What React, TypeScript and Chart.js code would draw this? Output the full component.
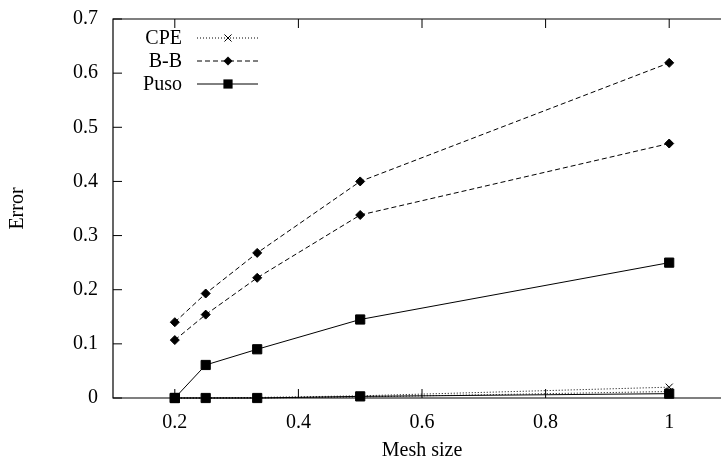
import { useEffect, useRef } from "react";
import { Chart, registerables } from "chart.js";

Chart.register(...registerables);

const meshSizes = [0.2, 0.25, 1 / 3, 0.5, 1];
const cpeA = [0, 0, 0.001, 0.004, 0.02];
const cpeB = [0, 0, 0, 0.002, 0.012];
const bbA = [0.14, 0.193, 0.268, 0.4, 0.619];
const bbB = [0.107, 0.154, 0.222, 0.338, 0.47];
const pusoA = [0, 0.061, 0.09, 0.145, 0.25];
const pusoB = [0, 0, 0, 0.003, 0.008];

const xTicks = [0.2, 0.4, 0.6, 0.8, 1];
const yTicks = [0, 0.1, 0.2, 0.3, 0.4, 0.5, 0.6, 0.7];
const legendLabels = ["CPE", "B-B", "Puso"];

const FONT = "'Liberation Serif', 'DejaVu Serif', serif";

type Style = { dash: number[]; point: string; radius: number };
const styles: Style[] = [
  { dash: [1, 2], point: "crossRot", radius: 5 },
  { dash: [5, 3], point: "rectRot", radius: 4.5 },
  { dash: [], point: "rect", radius: 6.5 },
];

function drawMarker(ctx: CanvasRenderingContext2D, kind: string, x: number, y: number, r: number) {
  ctx.save();
  ctx.setLineDash([]);
  ctx.fillStyle = "#000";
  ctx.strokeStyle = "#000";
  ctx.lineWidth = 1;
  ctx.beginPath();
  if (kind === "crossRot") {
    const d = r * Math.SQRT1_2;
    ctx.moveTo(x - d, y - d);
    ctx.lineTo(x + d, y + d);
    ctx.moveTo(x - d, y + d);
    ctx.lineTo(x + d, y - d);
    ctx.stroke();
  } else if (kind === "rectRot") {
    ctx.moveTo(x, y - r);
    ctx.lineTo(x + r, y);
    ctx.lineTo(x, y + r);
    ctx.lineTo(x - r, y);
    ctx.closePath();
    ctx.fill();
  } else {
    const s = r * Math.SQRT1_2;
    ctx.rect(x - s, y - s, 2 * s, 2 * s);
    ctx.fill();
  }
  ctx.restore();
}

const framePlugin = {
  id: "gnuframe",
  afterDraw(chart: any) {
    const { ctx, chartArea } = chart;
    const { left, right, top, bottom } = chartArea;
    const xs = chart.scales.x;
    const ys = chart.scales.y;
    ctx.save();
    ctx.strokeStyle = "#000";
    ctx.lineWidth = 1.2;
    ctx.setLineDash([]);
    ctx.beginPath();
    ctx.moveTo(left, top);
    ctx.lineTo(right, top);
    ctx.lineTo(right, bottom);
    ctx.lineTo(left, bottom);
    ctx.closePath();
    ctx.stroke();
    ctx.lineWidth = 1;
    const tl = 9;
    ctx.beginPath();
    for (const v of xTicks) {
      const px = xs.getPixelForValue(v);
      ctx.moveTo(px, bottom);
      ctx.lineTo(px, bottom - tl);
      ctx.moveTo(px, top);
      ctx.lineTo(px, top + tl);
    }
    for (const v of yTicks) {
      const py = ys.getPixelForValue(v);
      ctx.moveTo(left, py);
      ctx.lineTo(left + tl, py);
      ctx.moveTo(right, py);
      ctx.lineTo(right - tl, py);
    }
    ctx.stroke();

    // legend
    ctx.font = `20px ${FONT}`;
    ctx.fillStyle = "#000";
    ctx.textAlign = "right";
    ctx.textBaseline = "middle";
    legendLabels.forEach((label, i) => {
      const y = top + 19 + i * 23;
      ctx.fillText(label, left + 69, y + 1);
      ctx.beginPath();
      ctx.setLineDash(styles[i].dash);
      ctx.lineWidth = 1;
      ctx.moveTo(left + 84, y);
      ctx.lineTo(left + 145, y);
      ctx.stroke();
      drawMarker(ctx, styles[i].point, left + 115, y, styles[i].radius);
    });
    ctx.restore();
  },
};

function makeDataset(values: number[], s: Style) {
  return {
    data: meshSizes.map((x, i) => ({ x, y: values[i] })),
    borderColor: "#000",
    backgroundColor: "#000",
    borderWidth: 1,
    borderDash: s.dash,
    pointStyle: s.point,
    pointRadius: s.radius,
    pointBorderWidth: 1,
    pointBorderColor: "#000",
    pointBackgroundColor: "#000",
    tension: 0,
    clip: false as any,
  };
}

export default function App() {
  const ref = useRef<HTMLCanvasElement | null>(null);
  useEffect(() => {
    if (!ref.current) return;
    const chart = new Chart(ref.current, {
      type: "line",
      data: {
        datasets: [
          makeDataset(cpeA, styles[0]),
          makeDataset(cpeB, styles[0]),
          makeDataset(bbA, styles[1]),
          makeDataset(bbB, styles[1]),
          makeDataset(pusoA, styles[2]),
          makeDataset(pusoB, styles[2]),
        ] as any,
      },
      options: {
        animation: false,
        responsive: false,
        devicePixelRatio: 1,
        layout: { padding: { top: 10, right: 11, left: 0, bottom: 0 } },
        plugins: { legend: { display: false }, tooltip: { enabled: false } },
        scales: {
          x: {
            type: "linear",
            min: 0.1,
            max: 1.1,
            afterBuildTicks: (s: any) => {
              s.ticks = xTicks.map((v) => ({ value: v }));
            },
            afterFit: (s: any) => {
              s.height = 68;
            },
            grid: { display: false },
            border: { display: false },
            ticks: {
              color: "#000",
              font: { family: FONT, size: 20 },
              padding: 5,
              maxRotation: 0,
              autoSkip: false,
              callback: (v: any) => String(v),
            },
            title: {
              display: true,
              text: "Mesh size",
              color: "#000",
              font: { family: FONT, size: 20 },
              padding: { top: 0, bottom: 3 },
            },
          },
          y: {
            type: "linear",
            min: 0,
            max: 0.7,
            afterBuildTicks: (s: any) => {
              s.ticks = yTicks.map((v) => ({ value: v }));
            },
            afterFit: (s: any) => {
              s.width = 113;
            },
            grid: { display: false },
            border: { display: false },
            ticks: {
              color: "#000",
              font: { family: FONT, size: 20 },
              padding: 7,
              autoSkip: false,
              callback: (v: any) => String(v),
            },
            title: {
              display: true,
              text: "Error",
              color: "#000",
              font: { family: FONT, size: 20 },
              padding: { top: 6, bottom: 0 },
            },
          },
        },
      },
      plugins: [framePlugin],
    });
    return () => chart.destroy();
  }, []);
  return (
    <div style={{ position: "fixed", left: 0, top: 0, width: 721, height: 466, overflow: "hidden", background: "#fff" }}>
      <canvas ref={ref} width={742} height={466} style={{ width: 742, height: 466, display: "block" }} />
    </div>
  );
}
